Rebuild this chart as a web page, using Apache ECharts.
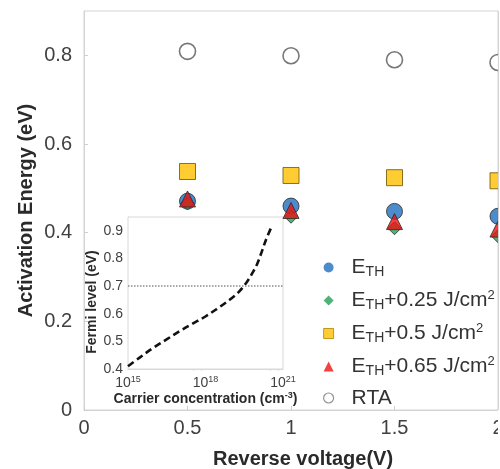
<!DOCTYPE html>
<html>
<head>
<meta charset="utf-8">
<script src="https://cdn.jsdelivr.net/npm/echarts@6/dist/echarts.min.js"></script>
<style>
html,body{margin:0;padding:0;background:#fff;}
#c{width:500px;height:469px;}
</style>
</head>
<body>
<div id="c"></div>
<script>
// Main chart data
const voltage = [0.5, 1, 1.5, 2];
const eTH = [0.471, 0.460, 0.448, 0.437];
const eTH025 = [0.466, 0.436, 0.410, 0.392];
const eTH05 = [0.538, 0.529, 0.524, 0.517];
const eTH065 = [0.476, 0.450, 0.425, 0.408];
const rta = [0.809, 0.799, 0.790, 0.784];
const xTicks = [0, 0.5, 1, 1.5, 2];
const yTicks = [0, 0.2, 0.4, 0.6, 0.8];

// Inset data
const carrier = [1e15, 3e15, 1e16, 3e16, 1e17, 3e17, 1e18, 3e18, 1e19, 2e19, 4e19, 7e19, 1e20, 1.5e20, 2.2e20, 3.5e20];
const fermi = [0.410, 0.443, 0.478, 0.506, 0.537, 0.563, 0.590, 0.620, 0.655, 0.680, 0.715, 0.752, 0.780, 0.824, 0.868, 0.912];
const fermiRef = 0.7;

const names = ['ETH', 'ETH+0.25', 'ETH+0.5', 'ETH+0.65', 'RTA'];
const legendRich = {
  'ETH': '{f|E}{s|TH}',
  'ETH+0.25': '{f|E}{s|TH}{a|+0.25 J/cm}{p|2}',
  'ETH+0.5': '{f|E}{s|TH}{a|+0.5 J/cm}{p|2}',
  'ETH+0.65': '{f|E}{s|TH}{a|+0.65 J/cm}{p|2}',
  'RTA': '{f|RTA}'
};

function pairs(xs, ys){ return xs.map((x,i)=>[x, ys[i]]); }

const chart = echarts.init(document.getElementById('c'), null, {renderer:'canvas'});
const FONT = 'Liberation Sans, Arial, sans-serif';
const mainBorder = {borderColor:'#2a2a2a', borderWidth:1};

chart.setOption({
  animation: false,
  backgroundColor: '#fff',
  textStyle: {fontFamily: FONT},
  grid: [
    {left: 84, right: 2, top: 11, bottom: 59, show: true, borderColor: '#d4d4d4', borderWidth: 1, backgroundColor: 'transparent', z: 0,
     containLabel: false, outerBoundsMode: 'none'},
    {left: 128, top: 217, width: 155, height: 152, show: true, borderColor: '#d8d8d8', borderWidth: 1, backgroundColor: '#fff', z: 1,
     containLabel: false, outerBoundsMode: 'none'}
  ],
  xAxis: [
    {gridIndex: 0, type: 'value', min: 0, max: 2, interval: 0.5,
     name: 'Reverse voltage(V)', nameLocation: 'middle', nameGap: 39,
     nameTextStyle: {fontSize: 20, fontWeight: 'bold', color: '#2a2a2a', fontFamily: FONT, padding: [0,0,0,24]},
     axisLine: {show: true, lineStyle: {color: '#d4d4d4'}},
     axisTick: {show: true, inside: true, length: 4, lineStyle: {color: '#cfcfcf'}},
     splitLine: {show: false},
     axisLabel: {fontSize: 20, color: '#404040', margin: 8, fontFamily: FONT,
       formatter: v => String(v)}},
    {gridIndex: 1, type: 'log', logBase: 10, min: 1e15, max: 1e21, interval: 3,
     name: '{t|Carrier concentration (cm}{p|-3}{t|)}', nameLocation: 'middle', nameGap: 22,
     nameTextStyle: {rich: {
       t: {fontSize: 14, fontWeight: 'bold', color: '#2a2a2a', fontFamily: FONT, lineHeight: 16},
       p: {fontSize: 9, fontWeight: 'bold', color: '#2a2a2a', fontFamily: FONT, verticalAlign: 'top', lineHeight: 10}
     }},
     axisLine: {show: true, lineStyle: {color: '#d8d8d8'}},
     axisTick: {show: false},
     minorTick: {show: true, splitNumber: 3, length: 2, lineStyle: {color: '#dddddd'}},
     splitLine: {show: false},
     axisLabel: {margin: 6, formatter: v => '{b|10}{e|' + Math.round(Math.log10(v)) + '}',
       rich: {
         b: {fontSize: 14, color: '#404040', fontFamily: FONT, lineHeight: 16},
         e: {fontSize: 9, color: '#404040', fontFamily: FONT, verticalAlign: 'top', lineHeight: 10}
       }}}
  ],
  yAxis: [
    {gridIndex: 0, type: 'value', min: 0, max: 0.9, interval: 0.2,
     name: 'Activation Energy (eV)', nameLocation: 'middle', nameGap: 48, nameMoveOverlap: false,
     nameTextStyle: {fontSize: 20, fontWeight: 'bold', color: '#2a2a2a', fontFamily: FONT},
     axisLine: {show: true, lineStyle: {color: '#d4d4d4'}},
     axisTick: {show: true, inside: true, length: 4, lineStyle: {color: '#cfcfcf'}},
     splitLine: {show: false},
     axisLabel: {fontSize: 20, color: '#404040', margin: 12, fontFamily: FONT, showMaxLabel: false,
       formatter: v => v === 0 ? '0' : v.toFixed(1)}},
    {gridIndex: 1, type: 'value', min: 0.4, max: 0.95, interval: 0.1,
     name: 'Fermi level (eV)', nameLocation: 'middle', nameGap: 27,
     nameTextStyle: {fontSize: 14, fontWeight: 'bold', color: '#2a2a2a', fontFamily: FONT, padding: [0,18,0,0]},
     axisLine: {show: true, lineStyle: {color: '#d8d8d8'}},
     axisTick: {show: false},
     splitLine: {show: false},
     axisLabel: {fontSize: 14, color: '#404040', margin: 5, fontFamily: FONT, showMaxLabel: false,
       formatter: v => v.toFixed(1)}}
  ],
  legend: {
    orient: 'vertical', left: 318, top: 252, itemGap: 9,
    itemWidth: 10, itemHeight: 10,
    data: [
      {name: 'ETH', itemStyle: {color: '#1f6fbf', borderWidth: 0}},
      {name: 'ETH+0.25', itemStyle: {color: '#22a052', borderWidth: 0}},
      {name: 'ETH+0.5', itemStyle: {color: '#ffc000', borderColor: '#b08400', borderWidth: 1}},
      {name: 'ETH+0.65', itemStyle: {color: '#ee1111', borderWidth: 0}},
      {name: 'RTA', itemStyle: {color: '#ffffff', borderColor: '#777', borderWidth: 1.2}}
    ],
    formatter: n => legendRich[n],
    textStyle: {
      rich: {
        f: {fontSize: 21, color: '#333', fontFamily: FONT, padding: [0,0,0,13], lineHeight: 24},
        a: {fontSize: 21, color: '#333', fontFamily: FONT, lineHeight: 24},
        s: {fontSize: 14, color: '#333', fontFamily: FONT, verticalAlign: 'bottom', lineHeight: 14},
        p: {fontSize: 13, color: '#333', fontFamily: FONT, verticalAlign: 'top', lineHeight: 13}
      }
    }
  },
  graphic: [
    {type: 'rect', left: 498, top: 0, z: 100, shape: {width: 2, height: 469}, style: {fill: '#fff'}, silent: true},
    {type: 'line', z: 101, shape: {x1: 498.5, y1: 11, x2: 498.5, y2: 410}, style: {stroke: '#d4d4d4', lineWidth: 1}, silent: true}
  ],
  series: [
    {name: 'Fermi', type: 'line', xAxisIndex: 1, yAxisIndex: 1, data: pairs(carrier, fermi),
     showSymbol: false, smooth: 0.35, z: 3,
     lineStyle: {color: '#111', width: 2.6, type: [7, 4]},
     markLine: {silent: true, symbol: 'none', label: {show: false},
       lineStyle: {color: '#8a8a8a', width: 1.5, type: [1.5, 1.5]},
       data: [{yAxis: fermiRef}]}},
    {name: 'ETH', type: 'scatter', data: pairs(voltage, eTH), symbol: 'circle', symbolSize: 16, clip: true, z: 5,
     itemStyle: Object.assign({color: '#1f6fbf'}, mainBorder)},
    {name: 'ETH+0.25', type: 'scatter', data: pairs(voltage, eTH025), symbol: 'diamond', symbolSize: 13, clip: true, z: 5,
     itemStyle: Object.assign({color: '#22a052'}, mainBorder)},
    {name: 'ETH+0.5', type: 'scatter', data: pairs(voltage, eTH05), symbol: 'rect', symbolSize: 16, clip: true, z: 5,
     itemStyle: {color: '#ffc000', borderColor: '#6b5200', borderWidth: 1}},
    {name: 'ETH+0.65', type: 'scatter', data: pairs(voltage, eTH065), symbol: 'triangle', symbolSize: 16, clip: true, z: 5,
     itemStyle: Object.assign({color: '#ee1111'}, mainBorder)},
    {name: 'RTA', type: 'scatter', data: pairs(voltage, rta), symbol: 'circle', symbolSize: 16, clip: true, z: 5,
     itemStyle: {color: '#ffffff', borderColor: '#555', borderWidth: 1.6}}
  ]
});
</script>
</body>
</html>
